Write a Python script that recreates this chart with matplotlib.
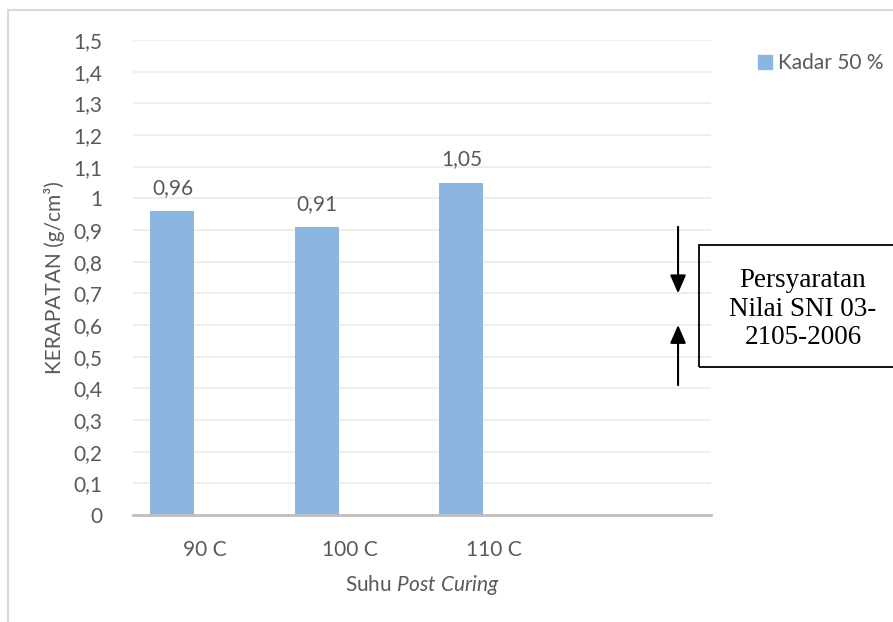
import matplotlib.pyplot as plt
from matplotlib.lines import Line2D
from matplotlib.patches import Rectangle, Patch

plt.rcParams['font.family'] = ['Lato', 'DejaVu Sans']
plt.rcParams['mathtext.fontset'] = 'custom'
plt.rcParams['mathtext.rm'] = 'Lato'
plt.rcParams['mathtext.it'] = 'Lato:italic'

# data
categories = ['90 C', '100 C', '110 C', '']
kadar_50 = [0.96, 0.91, 1.05]
value_labels = ['0,96', '0,91', '1,05']
y_ticks = [0, 0.1, 0.2, 0.3, 0.4, 0.5, 0.6, 0.7, 0.8, 0.9, 1.0, 1.1, 1.2, 1.3, 1.4, 1.5]
y_ticklabels = ['0', '0,1', '0,2', '0,3', '0,4', '0,5', '0,6', '0,7', '0,8', '0,9',
                '1', '1,1', '1,2', '1,3', '1,4', '1,5']
sni_upper = 0.91   # arrow tails
sni_lower = 0.41
sni_tip_top = 0.70
sni_tip_bottom = 0.60

txt = '#595959'
bar_col = '#8cb6e0'

fig = plt.figure(figsize=(8.93, 6.22), dpi=100)
ax = fig.add_axes([133 / 893, 1 - 515 / 622, 578 / 893, 475 / 622])

x = list(range(len(kadar_50)))
bx = [i - 0.227 for i in x]
bars = ax.bar(bx, kadar_50, width=0.305, color=bar_col, zorder=3, label='Kadar 50 %')
for xi, v, lab in zip(bx, kadar_50, value_labels):
    ax.annotate(lab, (xi, v), xytext=(0, 9.5), textcoords='offset points',
                ha='center', va='bottom', fontsize=15, color=txt)

ax.set_xlim(-0.5, 3.5)
ax.set_ylim(0, 1.5)
ax.set_xticks(range(len(categories)))
ax.set_xticklabels(categories)
ax.set_yticks(y_ticks)
ax.set_yticklabels(y_ticklabels)
ax.tick_params(length=0, labelsize=15, colors=txt)
ax.tick_params(axis='x', pad=18)
ax.tick_params(axis='y', pad=22)
ax.grid(axis='y', color='#ebebeb', lw=1.2, zorder=0)
ax.set_axisbelow(True)
for s in ['left', 'right', 'top']:
    ax.spines[s].set_visible(False)
ax.spines['bottom'].set_color('#bfbfbf')
ax.spines['bottom'].set_linewidth(2)
ax.spines['bottom'].set_zorder(4)

ax.set_xlabel(r'Suhu $\it{Post\ Curing}$', fontsize=15, color=txt, labelpad=9.5)
ax.set_ylabel('KERAPATAN (g/cm³)', fontsize=15, color=txt, labelpad=6)

fig.legend(handles=[Patch(color=bar_col, label='Kadar 50 %')], loc='upper left',
           bbox_to_anchor=(758 / 893, 1 - 53 / 622), frameon=False, fontsize=15,
           labelcolor=txt, handlelength=0.68, handleheight=0.68, handletextpad=0.3,
           borderpad=0, borderaxespad=0)

# SNI requirement arrows and box
ax_x = 3.272
ax.annotate('', xy=(ax_x, sni_tip_top), xytext=(ax_x, sni_upper),
            arrowprops=dict(arrowstyle='-|>,head_length=0.55,head_width=0.24',
                            color='black', lw=1.5, shrinkA=0, shrinkB=0,
                            mutation_scale=20), annotation_clip=False)
ax.annotate('', xy=(ax_x, sni_tip_bottom), xytext=(ax_x, sni_lower),
            arrowprops=dict(arrowstyle='-|>,head_length=0.55,head_width=0.24',
                            color='black', lw=1.5, shrinkA=0, shrinkB=0,
                            mutation_scale=20), annotation_clip=False)

fig.patches.append(Rectangle((699 / 893, 1 - 367 / 622), 220 / 893, 122 / 622,
                             transform=fig.transFigure, fill=False,
                             edgecolor='black', lw=1.3, clip_on=False))
fig.text(803 / 893, 1 - 309 / 622, 'Persyaratan\nNilai SNI 03-\n2105-2006',
         ha='center', va='center', multialignment='center', fontsize=19.5,
         family='Liberation Serif', color='black', linespacing=1.2)

# outer chart border (left and top only)
fig.add_artist(Line2D([8 / 893, 8 / 893], [0, 1 - 10 / 622], transform=fig.transFigure,
                      color='#d9d9d9', lw=1.5))
fig.add_artist(Line2D([8 / 893, 1], [1 - 10 / 622, 1 - 10 / 622], transform=fig.transFigure,
                      color='#d9d9d9', lw=1.5))

fig.savefig('out.png', dpi=100)
